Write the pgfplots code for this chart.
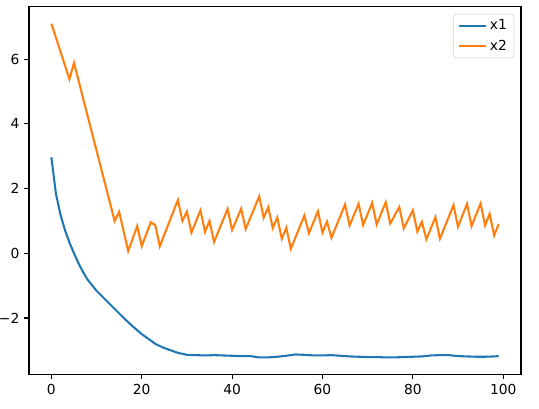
\documentclass[border=0pt]{standalone}
\usepackage{pgfplots}
\pgfplotsset{compat=1.18}
\usepackage{fontspec}
\setmainfont{DejaVu Sans}
\definecolor{c0}{HTML}{1F77B4}
\definecolor{c1}{HTML}{FF7F0E}

\begin{document}
\begin{tikzpicture}
\begin{axis}[
    name=main,
    scale only axis,
    width=356pt,
    height=266pt,
    xmin=-4.95, xmax=103.95,
    ymin=-3.75, ymax=7.62,
    xtick={0,20,40,60,80,100},
    ytick={-2,0,2,4,6},
    yticklabels={−2,0,2,4,6},
    tick align=outside,
    tick pos=lower,
    major tick length=3.5pt,
    every tick/.style={black, line width=0.8pt},
    axis line style={line width=0.8pt},
    /pgf/number format/assume math mode=true,
    tick label style={font=\fontsize{10}{12}\selectfont},
    legend style={at={(1,1)}, xshift=-5pt, yshift=-5pt, anchor=north east,
        draw=black!20, rounded corners=2pt, font=\fontsize{10}{12}\selectfont,
        inner xsep=3pt, inner ysep=2pt, row sep=2pt,
        nodes={inner sep=2pt}},
    legend cell align=left,
    legend image code/.code={\draw[#1] (0pt,0pt) -- (20pt,0pt);},
]
\addplot[c0, line width=1.5pt] coordinates {
    (0,2.97) (1,1.85) (2,1.20) (3,0.72) (4,0.33) (5,0.0) (6,-0.31) (7,-0.58)
    (8,-0.81) (9,-0.99) (10,-1.16) (11,-1.30) (12,-1.44) (13,-1.58) (14,-1.72)
    (15,-1.86) (16,-2.00) (17,-2.13) (18,-2.26) (19,-2.38) (20,-2.50)
    (21,-2.60) (22,-2.70) (23,-2.80) (24,-2.87) (25,-2.93) (26,-2.98)
    (27,-3.03) (28,-3.08) (29,-3.11) (30,-3.14) (32,-3.15) (34,-3.16)
    (36,-3.15) (38,-3.16) (40,-3.17) (42,-3.18) (44,-3.18) (46,-3.22)
    (48,-3.22) (50,-3.20) (52,-3.17) (54,-3.13) (56,-3.14) (58,-3.16)
    (60,-3.16) (62,-3.15) (64,-3.17) (66,-3.19) (68,-3.20) (70,-3.21)
    (72,-3.21) (74,-3.22) (76,-3.22) (78,-3.21) (80,-3.20) (82,-3.19)
    (84,-3.16) (86,-3.15) (88,-3.15) (90,-3.18) (92,-3.19) (94,-3.20)
    (96,-3.20) (98,-3.19) (99,-3.18)
};
\addlegendentry{x1}
\addplot[c1, line width=1.5pt] coordinates {
    (0,7.1) (4,5.38) (5,5.89) (14,1.0) (15,1.28) (17,0.07) (19,0.84) (20,0.22)
    (22,0.96) (23,0.87) (24,0.22) (28,1.65) (29,1.0) (30,1.29) (31,0.64)
    (33,1.33) (34,0.66) (35,1.0) (36,0.35) (39,1.37) (40,0.72) (42,1.38)
    (43,0.75) (46,1.76) (47,1.10) (48,1.43) (49,0.78) (50,1.10) (51,0.45)
    (52,0.79) (53,0.14) (56,1.17) (57,0.62) (59,1.30) (60,0.64) (61,0.98)
    (62,0.48) (65,1.51) (66,0.86) (68,1.53) (69,0.87) (71,1.56) (72,0.89)
    (74,1.58) (75,0.92) (77,1.43) (78,0.77) (80,1.33) (81,0.67) (82,0.97)
    (83,0.43) (85,1.12) (86,0.45) (89,1.49) (90,0.82) (92,1.53) (93,0.84)
    (95,1.54) (96,0.86) (97,1.22) (98,0.55) (99,0.91)
};
\addlegendentry{x2}
\end{axis}
\pgfresetboundingbox
\path ([shift={(-21pt,-24.5pt)}]main.south west) rectangle ([shift={(13pt,5pt)}]main.north east);
\end{tikzpicture}
\end{document}
